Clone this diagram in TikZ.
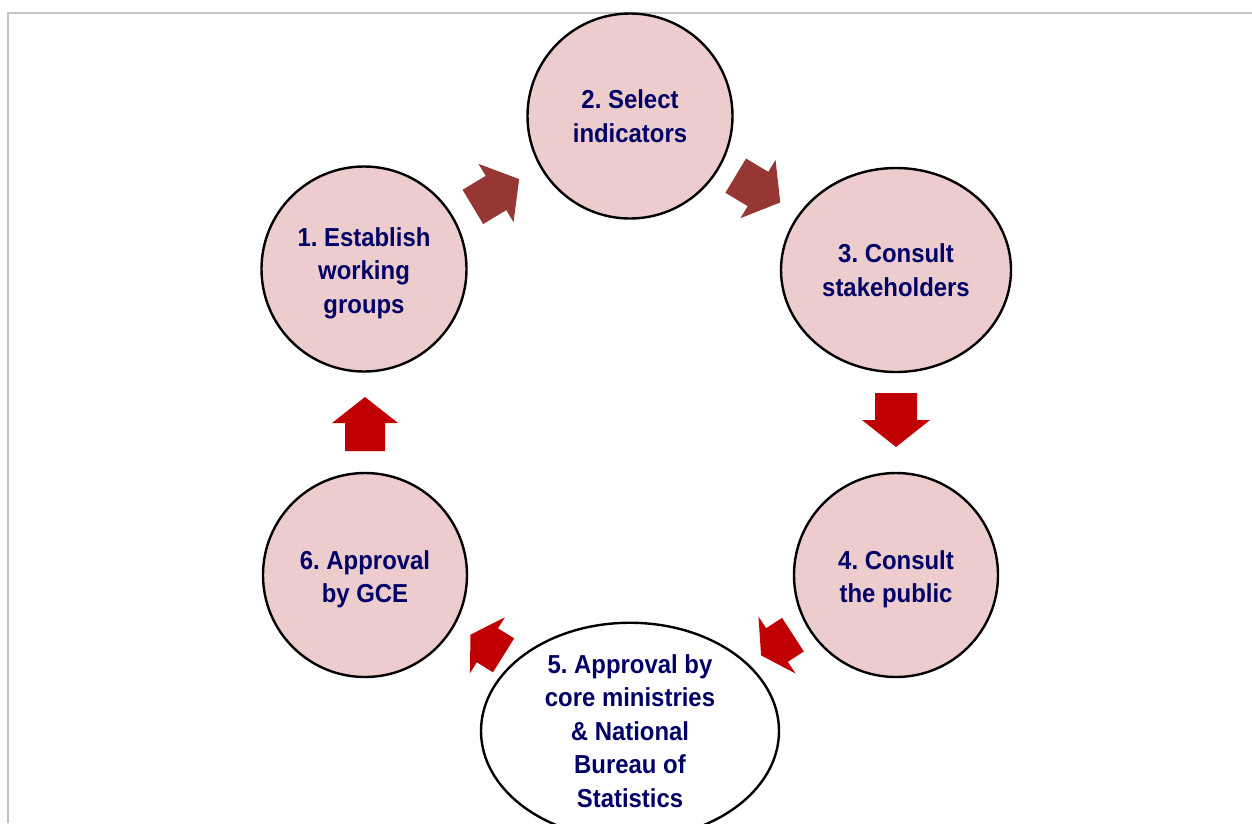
\documentclass[tikz,border=0pt]{standalone}
\usepackage{fontspec}
\setmainfont[FakeStretch=0.92]{Liberation Sans}
\usetikzlibrary{shapes.geometric}
\definecolor{stepfill}{RGB}{236,204,204}
\definecolor{steptext}{RGB}{0,0,102}
\definecolor{darkarrow}{RGB}{150,55,52}
\definecolor{redarrow}{RGB}{192,0,0}
\definecolor{framegrey}{RGB}{195,195,195}
\newcommand\lowertext{\rule{0pt}{27pt}}
\tikzset{
  stepnode/.style={ellipse, draw=black, line width=2.4pt, fill=stepfill, inner sep=0pt,
    text=steptext, align=center, font=\frenchspacing\bfseries\fontsize{26}{33.5}\selectfont},
  whitenode/.style={stepnode, fill=white},
  pics/blockarrow/.style args={#1/#2/#3/#4}{code={
    \path[pic actions] (-#1/2,-#4/2) -- (#1/2-#2,-#4/2) -- (#1/2-#2,-#3/2) -- (#1/2,0)
      -- (#1/2-#2,#3/2) -- (#1/2-#2,#4/2) -- (-#1/2,#4/2) -- cycle;
  }},
}
\begin{document}
\begin{tikzpicture}[x=1pt,y=-1pt]
\clip (0,0) rectangle (1252,823);
\fill[white] (0,0) rectangle (1252,823);
% frame
\coordinate (ftop) at (1252,13);
\coordinate (fcorner) at (8,13);
\coordinate (fbottom) at (8,823);
\draw[framegrey, line width=2pt] (ftop) -- (fcorner) -- (fbottom);
% nodes
\node[stepnode, minimum width=205pt, minimum height=205pt] (s1) at (364,269) {\lowertext1. Establish\\working\\groups};
\node[stepnode, minimum width=205pt, minimum height=205pt] (s2) at (630,116) {2. Select\\indicators};
\node[stepnode, minimum width=230pt, minimum height=204pt] (s3) at (896,270) {3. Consult\\stakeholders};
\node[stepnode, minimum width=204pt, minimum height=204pt] (s4) at (896,575) {\lowertext4. Consult\\the public};
\node[whitenode, minimum width=298pt, minimum height=208pt] (s5) at (630,731) {5. Approval by\\core ministries\\\& National\\Bureau of\\Statistics};
\node[stepnode, minimum width=204pt, minimum height=204pt] (s6) at (365,575) {\lowertext6. Approval\\by GCE};
% block arrows
\pic[fill=darkarrow, rotate=31] at (496,193) {blockarrow={54/27/68/40}};
\pic[fill=darkarrow, rotate=-31] at (758,189) {blockarrow={52/26/68/40}};
\pic[fill=redarrow, rotate=-90] at (896,420) {blockarrow={54/27/68/42}};
\pic[fill=redarrow, rotate=213] at (777,645) {blockarrow={38/19/68/40}};
\pic[fill=redarrow, rotate=148] at (487,645) {blockarrow={39/20/66/40}};
\pic[fill=redarrow, rotate=90] at (365,424) {blockarrow={54/26/66/40}};
\end{tikzpicture}
\end{document}
